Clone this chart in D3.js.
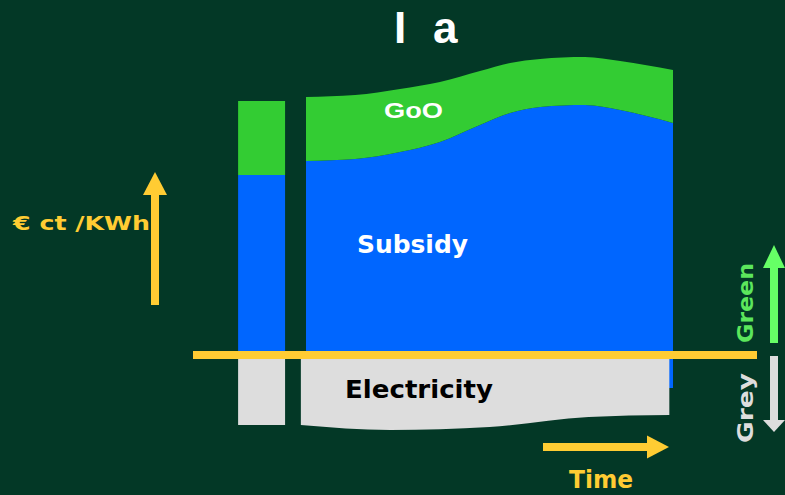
<!DOCTYPE html>
<html><head><meta charset="utf-8">
<script src="https://cdn.jsdelivr.net/npm/d3@7"></script>
<style>html,body{margin:0;padding:0;background:#033826;} svg{display:block;}</style>
</head><body><svg id="c" width="785" height="495"></svg>
<script>
// ---- data (€ ct / kWh over time, conceptual) ----
const time       = [0, 13.4, 25.6, 36.5, 47.4, 55.6, 63.8, 76, 85.6, 100];
const gooTop     = [25.8, 26.0, 26.6, 27.3, 28.4, 29.2, 29.6, 29.8, 29.4, 28.5];
const subsidyTop = [19.4, 19.6, 20.3, 21.3, 23.0, 24.2, 24.8, 25.0, 24.5, 23.2];
const subsidyBase = -3.3;
const elecTime   = [-1.4, 23, 50, 77, 99];
const elecBottom = [-7.0, -7.5, -7.2, -6.2, -6.0];
const todayRange   = [-18.5, -5.7];
const todayGoo     = 25.4;
const todaySubsidy = 18.0;
const todayElec    = -7.0;
const labels = {title: ["I", "a"], goo: "GoO", subsidy: "Subsidy", elec: "Electricity",
  unit: "€ ct /KWh", time: "Time", green: "Green", grey: "Grey"};

const C = {bg:"#033826", green:"#33CC33", blue:"#0066FF", grey:"#DDDDDD", yellow:"#FFCC33",
  lime:"#66FF66", limeText:"#5CE65C"};

const svg = d3.select("#c");
const x = d3.scaleLinear().domain([0, 100]).range([306, 673]);
const y = d3.scaleLinear().domain([0, 30]).range([355, 55]);
const curve = d3.curveMonotoneX;

const main = time.map((t, i) => ({t, goo: gooTop[i], sub: subsidyTop[i]}));
const elec = elecTime.map((t, i) => ({t, v: elecBottom[i]}));

// blue subsidy area
svg.append("path").datum(main).attr("fill", C.blue)
  .attr("d", d3.area().curve(curve).x(d => x(d.t)).y0(y(subsidyBase)).y1(d => y(d.sub)));
// green GoO area
svg.append("path").datum(main).attr("fill", C.green)
  .attr("d", d3.area().curve(curve).x(d => x(d.t)).y0(d => y(d.sub)).y1(d => y(d.goo)));
// grey electricity area
svg.append("path").datum(elec).attr("fill", C.grey)
  .attr("d", d3.area().curve(curve).x(d => x(d.t)).y0(y(0)).y1(d => y(d.v)));

// today bar
const bx = x(todayRange[0]), bw = x(todayRange[1]) - x(todayRange[0]);
svg.append("rect").attr("x", bx).attr("width", bw).attr("y", y(todayGoo))
  .attr("height", y(todaySubsidy) - y(todayGoo)).attr("fill", C.green);
svg.append("rect").attr("x", bx).attr("width", bw).attr("y", y(todaySubsidy))
  .attr("height", y(0) - y(todaySubsidy)).attr("fill", C.blue);
svg.append("rect").attr("x", bx).attr("width", bw).attr("y", y(0))
  .attr("height", y(todayElec) - y(0)).attr("fill", C.grey);

// yellow zero line
svg.append("line").attr("x1", 193).attr("x2", 757).attr("y1", y(0)).attr("y2", y(0))
  .attr("stroke", C.yellow).attr("stroke-width", 8);

// arrows
function arrow(x1, y1, x2, y2, headLen, headW, color) {
  const ang = Math.atan2(y2 - y1, x2 - x1);
  const bxp = x2 - headLen * Math.cos(ang), byp = y2 - headLen * Math.sin(ang);
  svg.append("line").attr("x1", x1).attr("y1", y1).attr("x2", bxp).attr("y2", byp)
    .attr("stroke", color).attr("stroke-width", 8);
  const px = -Math.sin(ang) * headW / 2, py = Math.cos(ang) * headW / 2;
  svg.append("path").attr("fill", color)
    .attr("d", `M${x2},${y2}L${bxp + px},${byp + py}L${bxp - px},${byp - py}Z`);
}
arrow(155, 305, 155, 172, 23, 24, C.yellow);
arrow(543, 447, 669, 447, 22, 23, C.yellow);
arrow(774, 343, 774, 245, 23, 22, C.lime);
arrow(774, 356, 774, 432, 12, 22, C.grey);

// text
const t = svg.append("text").attr("y", 43).attr("fill", "#fff")
  .style("font-family", "Liberation Sans, Arial, sans-serif").style("font-weight", "bold").style("font-size", "44px");
t.append("tspan").attr("x", 394).text(labels.title[0]);
t.append("tspan").attr("x", 433).text(labels.title[1]);

const dv = "DejaVu Sans, Verdana, sans-serif";
svg.append("text").attr("x", 384).attr("y", 118).attr("fill", "#fff")
  .attr("textLength", 59).attr("lengthAdjust", "spacingAndGlyphs")
  .style("font-family", "Liberation Sans, Arial, sans-serif").style("font-weight", "bold").style("font-size", "22px")
  .text(labels.goo);
svg.append("text").attr("x", 357).attr("y", 253).attr("fill", "#fff")
  .attr("textLength", 111).attr("lengthAdjust", "spacingAndGlyphs")
  .style("font-family", dv).style("font-weight", "bold").style("font-size", "24px").text(labels.subsidy);
svg.append("text").attr("x", 345).attr("y", 398).attr("fill", "#000")
  .attr("textLength", 148).attr("lengthAdjust", "spacingAndGlyphs")
  .style("font-family", dv).style("font-weight", "bold").style("font-size", "25px").text(labels.elec);
svg.append("text").attr("x", 13).attr("y", 230).attr("fill", C.yellow)
  .attr("textLength", 137).attr("lengthAdjust", "spacingAndGlyphs")
  .style("font-family", dv).style("font-weight", "bold").style("font-size", "20px").text(labels.unit);
svg.append("text").attr("x", 569).attr("y", 488).attr("fill", C.yellow)
  .attr("textLength", 64).attr("lengthAdjust", "spacingAndGlyphs")
  .style("font-family", dv).style("font-weight", "bold").style("font-size", "24px").text(labels.time);
svg.append("text").attr("transform", "translate(753,303) rotate(-90)").attr("text-anchor", "middle")
  .attr("fill", C.limeText).attr("textLength", 80).attr("lengthAdjust", "spacingAndGlyphs")
  .style("font-family", dv).style("font-weight", "bold").style("font-size", "22px").text(labels.green);
svg.append("text").attr("transform", "translate(753,408) rotate(-90)").attr("text-anchor", "middle")
  .attr("fill", C.grey).attr("textLength", 70).attr("lengthAdjust", "spacingAndGlyphs")
  .style("font-family", dv).style("font-weight", "bold").style("font-size", "22px").text(labels.grey);
</script></body></html>
